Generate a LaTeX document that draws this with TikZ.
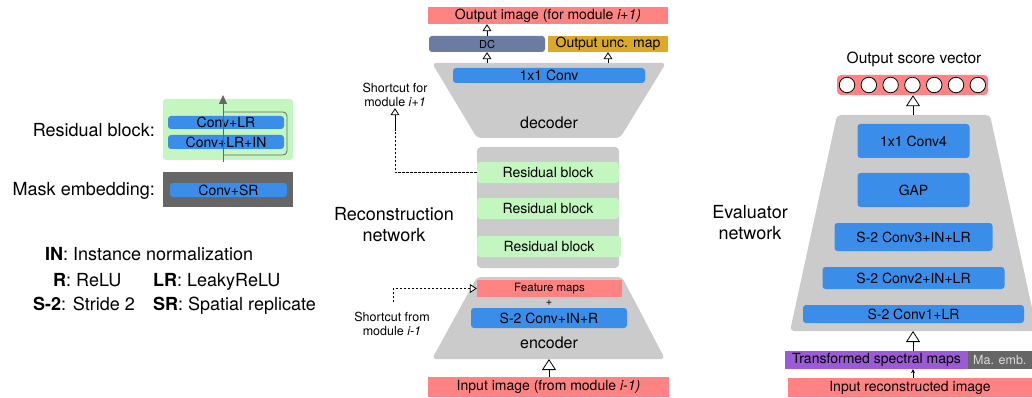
\documentclass[tikz,border=0pt]{standalone}
\usepackage{fontspec}
\setmainfont{TeX Gyre Heros}
\usetikzlibrary{arrows.meta}
\definecolor{bluConv}{HTML}{3B8DEA}
\definecolor{verdeRes}{HTML}{C4F6BF}
\definecolor{grigioRete}{HTML}{CBCBCB}
\definecolor{salmone}{HTML}{FF8383}
\definecolor{ardesia}{HTML}{6B7CA3}
\definecolor{ocraMappa}{HTML}{DBA828}
\definecolor{viola}{HTML}{9B5BD6}
\definecolor{grigioScuro}{HTML}{666666}

\begin{document}
\begin{tikzpicture}[x=1pt,y=-1pt,line join=round,
  misura/.style 2 args={minimum width=#1pt,minimum height=#2pt,inner sep=0pt},
  barra/.style={fill=bluConv,rounded corners=3pt,font=\fontsize{14}{16}\selectfont},
  blocco/.style={fill=verdeRes,rounded corners=3pt,font=\fontsize{14}{16}\selectfont},
  fascia/.style={fill=salmone,font=\fontsize{14}{16}\selectfont},
  titolo/.style={font=\fontsize{18}{21.5}\selectfont,align=center,inner sep=0pt},
  nota/.style={font=\fontsize{12.5}{14.5}\selectfont,align=center,inner sep=1pt},
  rete/.style={fill=grigioRete,rounded corners=4pt},
  freccia/.style={line width=0.8pt,-{Triangle[open,fill=white,length=7pt,width=9pt]}},
  frecciona/.style={line width=0.8pt,-{Triangle[open,fill=white,length=11pt,width=14pt]}},
  tratteggio/.style={line width=0.7pt,dash pattern=on 2.5pt off 1.5pt},
  cerchio/.style={circle,draw,fill=white,line width=0.8pt,minimum size=15.5pt,inner sep=0pt}]
  \useasboundingbox (0,0) rectangle (1032,398);

  % Legenda: blocco residuo e embedding della maschera.
  \node[rete,fill=verdeRes,rounded corners=3pt,misura={130}{61}] (legRes) at (228,129.5) {};
  \node[barra,misura={116}{13}] (legConvLR) at (226,122.5) {Conv+LR};
  \node[barra,misura={116}{14}] (legConvLRIN) at (226,142) {Conv+LR+IN};
  \coordinate (resIn) at (223,162);
  \coordinate (resOut) at (223,95);
  \draw[grigioScuro,line width=0.8pt,rounded corners=4pt]
    (223,155) -- (287,155) -- (287,112) -- (223,112);
  \draw[grigioScuro,line width=0.8pt,-{Triangle[length=9pt,width=8pt]}] (resIn) -- (resOut);
  \node[titolo,anchor=base east] (titRes) at (155,136.5) {Residual block:};
  \node[fill=grigioScuro,misura={130}{35}] (legMask) at (228,189.5) {};
  \node[barra,misura={117}{14}] (legConvSR) at (228.5,190) {Conv+SR};
  \node[titolo,anchor=base east] (titMask) at (155,195.5) {Mask embedding:};

  % Abbreviazioni.
  \begin{scope}[every node/.style={titolo,anchor=base west}]
    \node (legIN) at (45,260.5) {\textbf{IN}: Instance normalization};
    \node (legR) at (53,286.5) {\textbf{R}: ReLU};
    \node (legLR) at (153,286.5) {\textbf{LR}: LeakyReLU};
    \node (legS) at (33,310.5) {\textbf{S-2}: Stride 2};
    \node (legSR) at (153,310.5) {\textbf{SR}: Spatial replicate};
  \end{scope}

  % Rete di ricostruzione: decoder in alto.
  \node[fascia,misura={240}{17}] (outImg) at (548,15.5) {Output image (for module \textit{i+1)}};
  \node[fill=ardesia,rounded corners=3pt,misura={116}{16},font=\fontsize{11}{13}\selectfont] (dc) at (487,44) {DC};
  \node[fill=ocraMappa,misura={120}{16},font=\fontsize{14}{16}\selectfont] (unc) at (608,44) {Output unc. map};
  \fill[rete] (432,63) -- (666,63) -- (620,138) -- (477,138) -- cycle;
  \node[barra,misura={192}{15}] (conv1x1) at (549,75.5) {1x1 Conv};
  \node[font=\fontsize{16}{19}\selectfont] (decoder) at (549,123) {decoder};
  \coordinate (decTopA) at (487,63);
  \coordinate (decTopB) at (608,63);
  \draw[freccia] (dc) -- (outImg.south -| dc);
  \draw[freccia] (decTopA) -- (dc);
  \draw[freccia] (decTopB) -- (unc);

  % Blocchi residui al centro.
  \node[rete,misura={142}{121}] (pilaRes) at (548,207.5) {};
  \foreach \nome/\y/\largh in {rb1/172.5/142, rb2/208.5/142, rb3/246.5/144}{
    \node[blocco,misura={\largh}{21}] (\nome) at (548+\largh/2-71,\y) {Residual block};
  }
  \node[nota] (scFor) at (395,95) {Shortcut for\\module \textit{i+1}};
  \draw[tratteggio] (rb1.west) -| (395,130);
  \draw[freccia] (395,130) -- (scFor.south);
  \node[titolo] (titRic) at (394,224.5) {Reconstruction\\network};

  % Encoder in basso.
  \fill[rete] (477,277) -- (622,277) -- (665,359) -- (432,359) -- cycle;
  \node[fascia,misura={145}{17},font=\fontsize{11.5}{13}\selectfont] (featMaps) at (549.5,288.5) {Feature maps};
  \node[font=\fontsize{11}{13}\selectfont,inner sep=0pt] (piu) at (549,303) {+};
  \node[barra,misura={156}{20}] (s2conv) at (549,318) {S-2 Conv+IN+R};
  \node[font=\fontsize{16}{19}\selectfont] (encoder) at (549,343) {encoder};
  \node[fascia,misura={241}{20}] (inImg) at (548.5,387) {Input image (from module \textit{i-1)}};
  \coordinate (encBot) at (549,359);
  \draw[frecciona] (inImg.north -| encBot) -- (encBot);
  \node[nota] (scFrom) at (392,324) {Shortcut from\\module \textit{i-1}};
  \coordinate (scFromStart) at (393,302);
  \draw[tratteggio] (scFromStart) |- (470,288.5);
  \draw[freccia] (469,288.5) -- (featMaps.west);

  % Rete valutatrice a destra.
  \node[font=\fontsize{15.5}{18}\selectfont] (titScore) at (914,59) {Output score vector};
  \node[fill=salmone,rounded corners=4pt,misura={151}{20}] (score) at (912.5,85) {};
  \foreach \i in {0,...,6}{
    \node[cerchio] (c\i) at ({847+21.8*\i},85) {};
  }
  \fill[rete] (837,115) -- (990,115) -- (1037,331) -- (790,331) -- cycle;
  \coordinate (valTop) at (913,115);
  \coordinate (valBot) at (913,331);
  \draw[frecciona] (valTop) -- (score.south -| valTop);
  \foreach \nome/\y/\largh/\alt/\testo in {
    conv4/141/112/34/1x1 Conv4, gap/190/112/34/GAP,
    conv3/237/158/28/S-2 Conv3+IN+LR, conv2/278/182/22/S-2 Conv2+IN+LR,
    conv1/314/221/18/S-2 Conv1+LR}{
    \node[barra,misura={\largh}{\alt}] (\nome) at (913.5,\y) {\testo};
  }
  \node[titolo] (titVal) at (750,222.5) {Evaluator\\network};
  \node[fill=viola,misura={183}{18},font=\fontsize{14}{16}\selectfont] (transf) at (876.5,360) {Transformed spectral maps};
  \node[fill=grigioScuro,misura={64}{18},anchor=west] (maEmb) at (968,360) {};
  \node[text=black!15,font=\fontsize{12.5}{15}\selectfont,inner sep=0pt,anchor=west] (maEmbTesto) at (973,360) {Ma. emb.};
  \node[fascia,misura={244}{19}] (inRec) at (910,387.5) {Input reconstructed image};
  \draw[frecciona] (transf.north -| valBot) -- (valBot);
  \draw[line width=0.8pt,-{Stealth[length=4pt,width=4pt]}] (inRec.north -| valBot) -- (transf.south -| valBot);
\end{tikzpicture}
\end{document}
